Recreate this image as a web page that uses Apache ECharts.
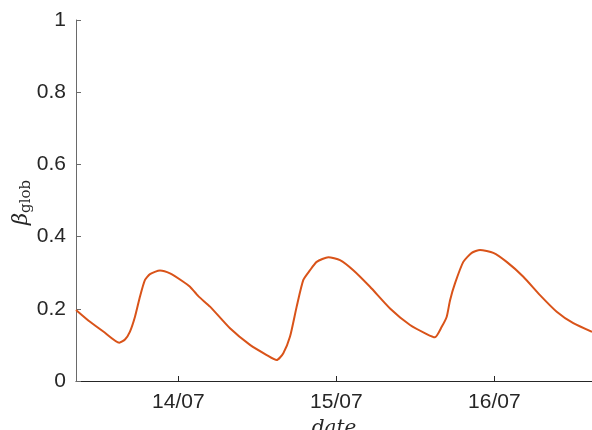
<!DOCTYPE html>
<html>
<head>
<meta charset="utf-8">
<script src="https://cdn.jsdelivr.net/npm/echarts@6/dist/echarts.min.js"></script>
<style>html,body{margin:0;padding:0;background:#fff;}#c{width:592px;height:430px;}</style>
</head>
<body>
<div id="c"></div>
<script>
// hours since 13/07 00:00
const hours = [8.46, 10.59, 12.61, 15.04, 15.90, 16.66, 17.42, 18.18, 18.94, 19.70, 21.22, 22.74, 24.76, 25.78, 27.04, 28.82, 31.85, 34.89, 37.43, 38.95, 39.95, 40.97, 41.98, 42.99, 44.01, 45.02, 46.79, 48.56, 50.58, 53.12, 56.16, 59.20, 61.73, 62.99, 64.01, 64.77, 65.28, 66.04, 67.29, 68.57, 69.83, 71.85, 73.88, 76.41, 78.94, 81.48, 84.00, 86.84];
const beta = [0.197, 0.164, 0.137, 0.106, 0.115, 0.137, 0.178, 0.234, 0.280, 0.296, 0.306, 0.298, 0.275, 0.261, 0.235, 0.206, 0.146, 0.100, 0.072, 0.058, 0.077, 0.123, 0.206, 0.280, 0.307, 0.330, 0.343, 0.335, 0.307, 0.261, 0.201, 0.155, 0.130, 0.121, 0.150, 0.178, 0.224, 0.271, 0.330, 0.355, 0.363, 0.355, 0.330, 0.289, 0.238, 0.192, 0.160, 0.136];
const tickHours = [24, 48, 72];
const tickLabels = ['14/07', '15/07', '16/07'];
const yTicks = [0, 0.2, 0.4, 0.6, 0.8, 1];

const data = hours.map((h, i) => [h, beta[i]]);
const chart = echarts.init(document.getElementById('c'));
const font = '"Liberation Sans", Arial, sans-serif';
const serif = '"DejaVu Serif", "Liberation Serif", serif';
chart.setOption({
  animation: false,
  grid: {left: 76, right: 0, top: 20, bottom: 49, containLabel: false, outerBoundsMode: 'none'},
  xAxis: {
    type: 'value', min: hours[0], max: hours[hours.length - 1],
    name: 'date', nameLocation: 'middle', nameGap: 38, nameMoveOverlap: false,
    nameTextStyle: {fontFamily: serif, fontStyle: 'italic', fontSize: 20, color: '#262626'},
    axisLine: {lineStyle: {color: '#262626', width: 1}},
    axisTick: {inside: true, length: 5, customValues: tickHours, lineStyle: {color: '#262626'}},
    axisLabel: {customValues: tickHours, margin: 11, fontSize: 21, fontFamily: font, color: '#262626',
      formatter: v => tickLabels[tickHours.indexOf(v)]},
    splitLine: {show: false}
  },
  yAxis: {
    type: 'value', min: yTicks[0], max: yTicks[yTicks.length - 1], interval: 0.2,
    name: '{b|β}{s|glob}', nameLocation: 'middle', nameGap: 42, nameRotate: 90,
    nameMoveOverlap: false,
    nameTextStyle: {
      padding: [0, 4, 0, 0],
      rich: {
        b: {fontFamily: serif, fontStyle: 'italic', fontSize: 21, color: '#262626'},
        s: {fontFamily: serif, fontSize: 15, color: '#262626', padding: [9, 0, 0, 0]}
      }
    },
    axisLine: {show: true, lineStyle: {color: '#6a6a6a', width: 1}},
    axisTick: {show: true, inside: true, length: 5, lineStyle: {color: '#6a6a6a'}},
    axisLabel: {margin: 10, fontSize: 21, fontFamily: font, color: '#262626'},
    splitLine: {show: false}
  },
  series: [{
    type: 'line', data: data, showSymbol: false, smooth: 0.2,
    lineStyle: {color: '#D95319', width: 2}, itemStyle: {color: '#D95319'}
  }]
});
</script>
</body>
</html>
